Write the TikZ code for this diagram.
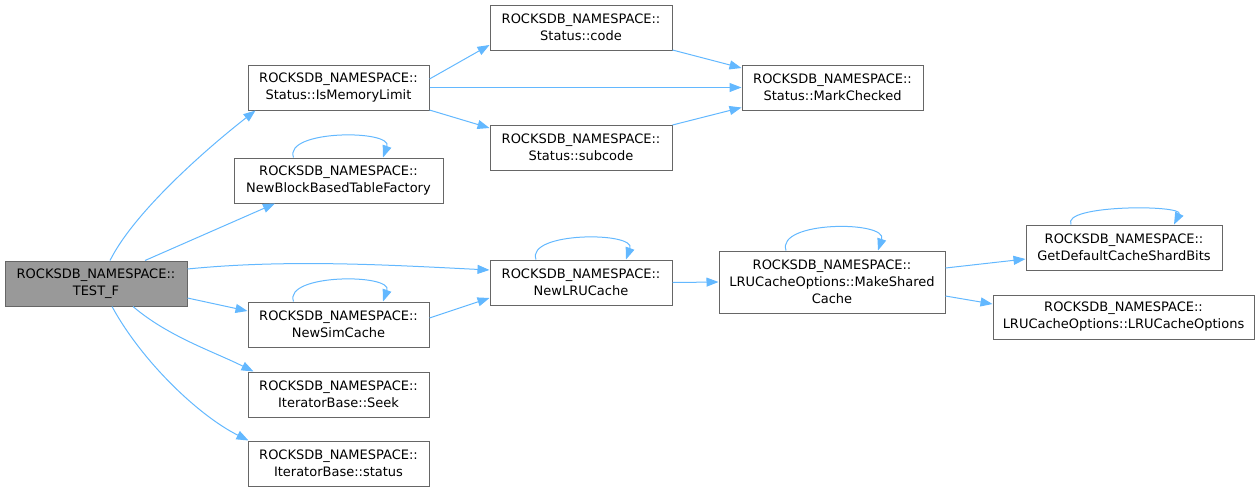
\documentclass[tikz,border=0pt]{standalone}
\usepackage{fontspec}
\setmainfont{DejaVu Sans}
\usetikzlibrary{arrows.meta}
\definecolor{edgeblue}{HTML}{63B8FF}
\definecolor{boxgray}{HTML}{666666}
\definecolor{rootfill}{HTML}{999999}
\begin{document}
\begin{tikzpicture}[
  x=1pt, y=-1pt,
  func/.style={rectangle, draw=boxgray, fill=white, line width=1pt, align=center,
    inner sep=0pt, minimum height=45pt, font=\fontsize{13}{17}\selectfont},
  root/.style={func, fill=rootfill},
  call/.style={draw=edgeblue, line width=1pt, -{Triangle[length=12pt,width=9pt]}}
]
\useasboundingbox (0,0) rectangle (1260,491);

% Caller
\node[root, minimum width=182pt] (testf) at (96,283.5) {ROCKSDB\_NAMESPACE::\\TEST\_F};

% First column of callees
\node[func, minimum width=181pt] (ismem) at (338.5,87.5) {ROCKSDB\_NAMESPACE::\\Status::IsMemoryLimit};
\node[func, minimum width=209pt] (nbbtf) at (338.5,180.5) {ROCKSDB\_NAMESPACE::\\NewBlockBasedTableFactory};
\node[func, minimum width=181pt] (nsim) at (338.5,324.5) {ROCKSDB\_NAMESPACE::\\NewSimCache};
\node[func, minimum width=181pt] (seek) at (338.5,394.5) {ROCKSDB\_NAMESPACE::\\IteratorBase::Seek};
\node[func, minimum width=181pt] (status) at (338.5,463.5) {ROCKSDB\_NAMESPACE::\\IteratorBase::status};

% Second column
\node[func, minimum width=182pt] (code) at (581,27.5) {ROCKSDB\_NAMESPACE::\\Status::code};
\node[func, minimum width=182pt] (subcode) at (581,147.5) {ROCKSDB\_NAMESPACE::\\Status::subcode};
\node[func, minimum width=182pt] (nlru) at (581,282.5) {ROCKSDB\_NAMESPACE::\\NewLRUCache};

% Third column and beyond
\node[func, minimum width=181pt] (markchk) at (832.5,87.5) {ROCKSDB\_NAMESPACE::\\Status::MarkChecked};
\node[func, minimum width=226pt, minimum height=62pt] (mkshared) at (832,282) {ROCKSDB\_NAMESPACE::\\LRUCacheOptions::MakeShared\\Cache};
\node[func, minimum width=196pt] (getdef) at (1124,247.5) {ROCKSDB\_NAMESPACE::\\GetDefaultCacheShardBits};
\node[func, minimum width=261pt, minimum height=44pt] (lruopts) at (1123.5,317) {ROCKSDB\_NAMESPACE::\\LRUCacheOptions::LRUCacheOptions};

% Calls from TEST_F
\draw[call] ([xshift=14pt]testf.north) .. controls +(25,-50) and +(-45,35) .. ([xshift=-83pt]ismem.south);
\draw[call] ([xshift=49pt]testf.north) -- ([xshift=-63.5pt]nbbtf.south);
\draw[call] ([yshift=14.5pt]testf.east) .. controls +(100,-10) and +(-100,-5) .. ([yshift=12.5pt]nlru.west);
\draw[call] ([yshift=-14.5pt]testf.east) -- ([yshift=13.5pt]nsim.west);
\draw[call] ([xshift=37pt]testf.south) .. controls +(35,30) and +(-40,-20) .. ([xshift=-85pt]seek.north);
\draw[call] ([xshift=16pt]testf.south) .. controls +(30,55) and +(-50,-25) .. ([xshift=-90pt]status.north);

% Status calls
\draw[call] ([yshift=8.5pt]ismem.east) -- ([yshift=-17.5pt]code.west);
\draw[call] (ismem.east) -- (markchk.west);
\draw[call] ([yshift=-22.5pt]ismem.east) -- ([yshift=19.5pt]subcode.west);
\draw[call] ([yshift=-22.5pt]code.east) -- ([yshift=19.5pt]markchk.west);
\draw[call] ([yshift=22.5pt]subcode.east) -- ([yshift=-20pt]markchk.west);

% Cache calls
\draw[call] ([yshift=6.5pt]nsim.east) -- ([yshift=-15.5pt]nlru.west);
\draw[call] (nlru.east) -- (mkshared.west);
\draw[call] ([yshift=14pt]mkshared.east) -- ([yshift=-11.5pt]getdef.west);
\draw[call] ([yshift=-14pt]mkshared.east) -- ([yshift=13pt]lruopts.west);

% Recursive calls
\draw[call] ([xshift=-45pt]nbbtf.north) .. controls +(-10,-28) and +(10,-28) .. ([xshift=44.5pt]nbbtf.north);
\draw[call] ([xshift=-45pt]nsim.north) .. controls +(-10,-28) and +(10,-28) .. ([xshift=44.5pt]nsim.north);
\draw[call] ([xshift=-45pt]nlru.north) .. controls +(-10,-28) and +(10,-28) .. ([xshift=45pt]nlru.north);
\draw[call] ([xshift=-46pt]mkshared.north) .. controls +(-10,-30) and +(10,-30) .. ([xshift=46pt]mkshared.north);
\draw[call] ([xshift=-53pt]getdef.north) .. controls +(-10,-20) and +(10,-20) .. ([xshift=50pt]getdef.north);

\end{tikzpicture}
\end{document}
